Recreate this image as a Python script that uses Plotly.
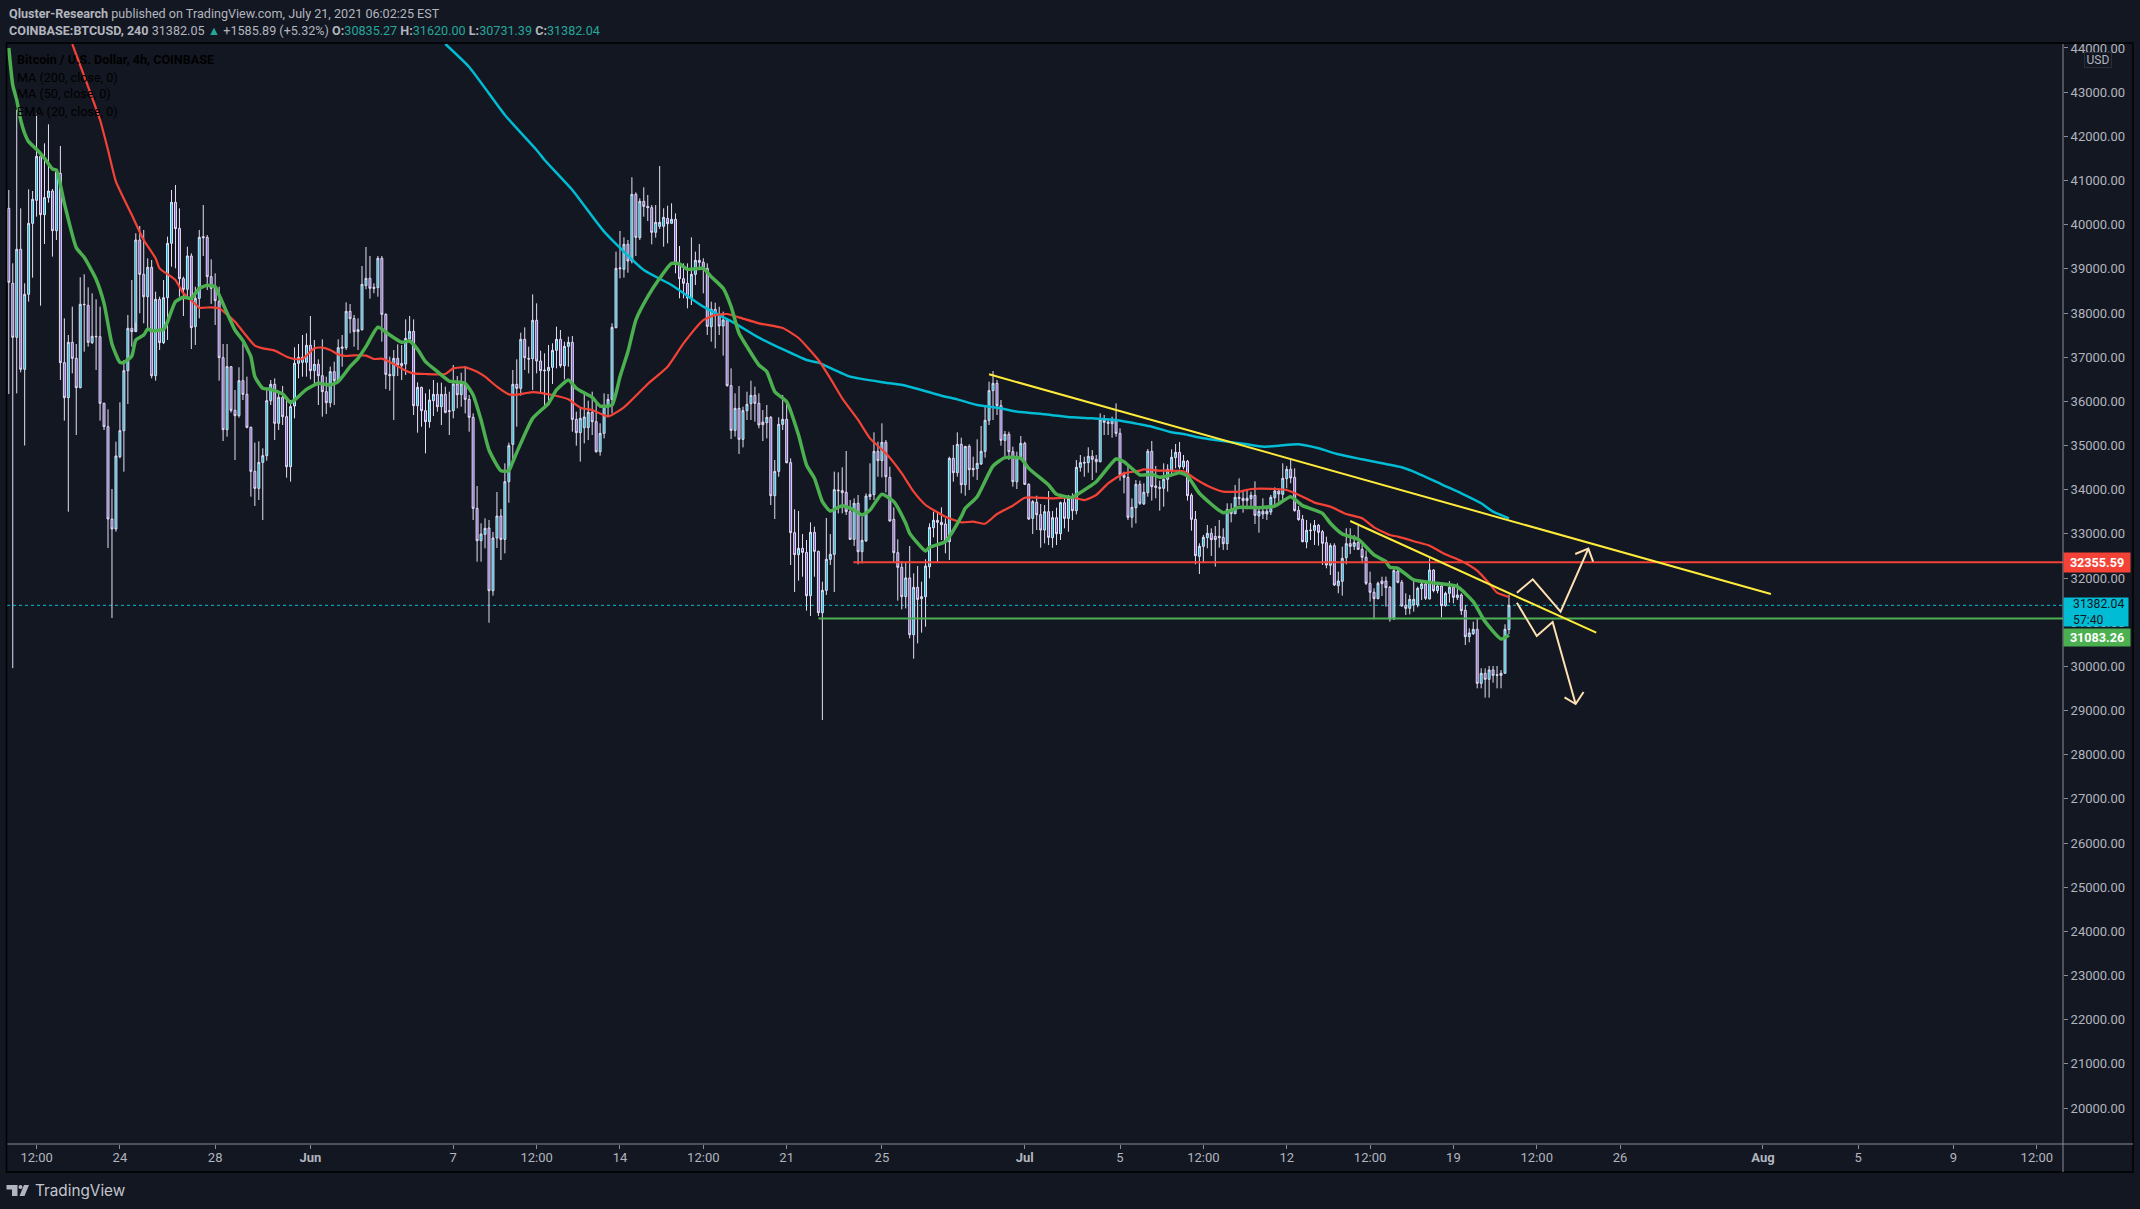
import pandas as pd
import plotly.graph_objects as go

# 4h candles
opens = [
40370,38672,37449,39442,36725,38423,40030,40551,41547,40227,
40612,40762,39864,41162,36876,36083,37336,36974,36310,38197,
38174,37329,37472,37464,35955,35427,33337,33110,34747,35336,
36695,37653,37578,39653,38876,38370,39034,36581,38310,37329,
38347,39578,40506,39917,38778,38536,39291,37691,38332,39729,
39713,38823,38559,38265,36989,35359,36785,35796,35676,36468,
36159,35412,34415,34030,34619,34770,36015,36385,35502,36091,
35653,34521,35895,36861,36883,36883,37268,36695,36838,36581,
36219,35970,36672,36468,37200,37215,38038,37872,37578,37623,
38620,38785,38581,38574,39238,37970,36611,36581,36973,36860,
36845,37411,37585,35902,36317,35789,35540,36015,36158,35879,
36158,35789,35789,36392,36151,36392,36045,35638,33577,32845,
32989,33133,31713,32906,33404,32875,34181,35026,36385,36294,
37404,36973,36966,37834,36913,36709,36694,36770,37155,37404,
36807,37245,37336,35592,35291,35404,35404,35751,35540,34860,
35275,35902,36045,37668,39004,38989,39555,39177,40687,39706,
40528,40415,40385,39826,39962,39962,40143,40030,40121,39079,
38777,38672,38347,38875,39192,39147,39011,37690,38083,37940,
37706,37834,36355,35343,35841,35140,35789,35947,36136,35955,
35532,35517,35638,33864,34415,35479,35593,34612,33027,32529,
32672,32581,31600,33034,32604,31215,31721,32423,32536,33993,
33978,33940,33502,32876,33691,32596,32838,33842,33887,34868,
34657,35072,34279,33328,32574,32242,31578,32003,30717,31789,
31578,31578,32257,33140,33306,33261,33223,32823,34710,34385,
35027,34113,34981,34483,34476,34581,34868,35570,36242,36408,
35902,35117,35253,34861,34181,34747,35049,34121,33351,33713,
33434,33087,33502,32913,33366,33004,33706,33351,33804,33525,
34506,34619,34612,34755,34687,34634,35585,35532,35494,35593,
35276,34340,34279,33374,33593,34121,33677,33933,34869,34084,
34054,34031,34235,34446,34726,34846,34514,34643,33873,33329,
32492,32718,32914,33012,32944,32944,32922,32778,33556,33458,
33827,33805,33752,33797,33873,33405,33510,33450,33495,33820,
33971,33895,34250,34461,34280,33533,33329,32816,33088,33080,
33193,33050,32801,32288,32733,31827,31926,32461,32778,32718,
32801,32650,32469,31880,31677,31533,31933,31933,31790,31073,
32152,31903,31382,31314,31390,31390,31760,31865,31526,32182,
31714,31820,31375,31654,31790,31556,31616,31269,30673,30741,
30839,29616,29843,29707,29918,29812,29797,29843,30835]
highs = [
40785,39125,42600,40370,38672,40800,40762,42530,41615,41842,
42272,40808,41253,41781,37880,37502,38144,37298,38808,38876,
38581,38446,38310,38144,35970,35819,34016,35087,35978,36936,
37955,38747,39804,39970,39880,39238,39200,38483,38370,38747,
39729,40785,40898,40370,38823,39502,39351,38596,39880,40445,
39766,39215,38898,38596,37298,37298,36800,36257,36770,37313,
36559,35427,35065,35095,34936,36257,36483,36521,36219,36347,
36106,36030,37223,37298,37502,37540,37932,37389,36951,37404,
36559,36785,36898,37404,37502,38242,38204,37955,37880,39064,
39495,39291,38672,39291,39290,37992,37011,37162,37290,37275,
37856,37932,37856,36430,36332,36181,36272,36483,36423,36423,
36332,36219,36823,36573,36649,36800,36143,35728,34083,33238,
33351,33314,33042,33947,33563,34596,35064,36709,36951,37555,
37675,37238,38423,38219,37147,37087,37275,37313,37690,37615,
37351,37464,37479,35766,35879,36219,36015,36219,35955,35502,
36181,36166,37766,39389,39856,39713,39653,41072,40732,40596,
40845,40672,40445,40445,41328,40370,40430,40483,40256,39517,
39124,39124,39713,39389,39562,39238,39124,38257,38234,38143,
38030,37879,36747,36181,36347,35879,36219,36468,36332,36181,
35804,35917,35668,34672,35638,36144,35993,34710,33555,33517,
32996,32861,33261,33162,32619,31917,33359,32996,34408,34393,
34506,34876,33766,33804,33879,33389,33917,34596,35298,35087,
35502,35125,34521,33600,32876,32385,32370,32725,32106,32272,
31917,32423,33238,33502,33502,33600,33351,34747,35012,35298,
35178,34989,35027,34747,35140,35442,35917,36445,36687,36483,
36030,35329,35313,34974,34861,35215,35087,34144,33766,33864,
33676,33653,33970,33517,33593,33729,33819,33879,33917,34672,
34785,34747,34959,34898,34785,35728,35691,35615,35653,35955,
35389,34408,34536,33804,34219,34204,34144,34922,35103,34537,
34205,34597,34575,34914,35035,35080,34786,34673,33918,33518,
32786,32975,33201,33126,33178,33314,33126,33692,33692,34107,
34258,33956,33993,33956,34190,33616,33805,33616,33880,34054,
34031,34597,34537,34673,34484,33631,33427,33314,33239,33314,
33224,33088,32937,32786,32786,32144,32711,33126,33126,32975,
33186,32763,32620,32144,31767,31918,32031,32031,31820,32220,
32220,31956,31654,31616,31956,31805,31933,31918,32446,32197,
31865,31880,31692,31933,31843,31880,31654,31390,30861,31012,
31073,29956,29956,30009,30009,30009,29918,30952,31620]
lows = [
36166,29960,36180,36657,35000,38257,38800,40181,38166,39563,
40498,39276,39653,36483,35563,33502,36634,35238,36295,37125,
37238,37298,36710,35563,35351,32680,31095,33050,34710,34408,
35940,37238,37781,37993,37766,37653,36521,36468,37163,37298,
37389,39049,39012,38370,37932,38370,37185,37276,37880,39291,
38521,38204,37729,36468,35102,35200,35744,34672,35630,36030,
35389,33842,33631,33766,33314,34657,35917,35125,35351,35464,
34272,34181,35615,36521,36559,36559,36498,36408,35917,35653,
35714,35864,35917,36445,36785,37163,37540,37238,37163,37600,
38536,38325,38446,38370,37351,36279,36241,35577,36573,36483,
36596,37351,35690,35290,35426,34823,35404,35668,35766,35464,
35728,35238,35615,35842,35879,35728,35313,33313,32370,32370,
32672,30989,31600,32680,32408,32558,33706,34596,35426,36128,
36709,36634,36257,36634,36181,35917,35917,36392,36747,36762,
36498,36785,35313,34996,34634,35049,35124,35238,34838,34770,
35162,35653,35728,37653,38785,38800,38913,39124,39290,39653,
40181,40083,39555,39706,39902,39502,39577,40030,38898,38332,
38332,38106,38181,38634,39011,38445,37502,37351,37200,37502,
37034,36332,35147,35200,34807,34958,35577,35577,35540,35389,
35102,35162,33653,33336,34294,35351,34597,32295,31683,31940,
32030,31261,31140,32030,31140,28785,31615,32295,31683,33464,
33464,33427,32861,32725,32310,32332,32823,33766,33766,34294,
34279,33940,33276,32347,31487,31291,31313,30634,30174,30521,
30763,30898,31993,32921,32355,32861,32559,32408,34181,34294,
33917,33864,33993,34294,34219,34559,34725,35464,35578,35691,
34996,34747,34672,34068,34015,34695,34106,33313,32996,33087,
32687,32785,32747,32687,32747,32861,33125,33049,33313,33442,
34408,34294,34385,34219,34385,34619,35238,35238,35178,35200,
34204,33917,33313,33140,33238,33654,33654,33842,33752,33805,
33526,33616,33956,34348,34484,34461,34461,33752,33073,32311,
32092,32348,32673,32499,32258,32688,32635,32635,33261,33443,
33654,33480,33556,33631,33224,33027,33337,33314,33427,33654,
33729,33744,34031,34144,33503,33299,32809,32673,32861,32748,
32733,32295,32220,32069,31820,31654,31601,32311,32544,32635,
32635,32333,31843,31465,31065,31518,31593,31352,31012,31050,
31880,31352,31163,31178,31239,31337,31503,31503,31518,31677,
31654,31111,31352,31443,31428,31503,31163,30484,30544,30711,
29503,29503,29292,29292,29631,29503,29503,29843,30731]
closes = [
38695,37449,39442,36725,38423,40030,40574,41547,40227,40612,
40762,39864,41193,36876,36083,37336,36974,36310,38197,38189,
37336,37472,37464,35955,35427,33337,33110,34763,35336,36695,
37653,37578,39653,38876,38370,39034,36581,38310,37329,38347,
39578,40506,39910,38778,38536,39291,37668,38332,39713,39706,
38823,38559,38280,36989,35359,36785,35796,35676,36468,36159,
35412,34415,34030,34619,34770,36015,36385,35502,36091,35653,
34521,35880,36861,36997,36997,37268,36695,36838,36581,36219,
35970,36672,36468,37215,37230,38038,37872,37578,37623,38649,
38785,38559,38559,39238,37970,36611,36581,36973,36823,36807,
37426,37585,35902,36317,35789,35540,36030,36158,35879,36158,
35751,35774,36392,36151,36392,36045,35638,33577,32845,32996,
33125,31713,32906,33404,32875,34181,34996,36385,36294,37404,
36989,36958,37834,36913,36694,36694,36770,37155,37404,36807,
37245,37336,35592,35291,35615,35645,35751,35540,34860,35275,
35902,36045,37675,39011,39019,39555,39177,40687,39713,40528,
40415,40385,39826,40053,40053,40166,40023,40121,39102,38777,
38672,38340,38875,39192,39147,39011,37698,38083,37940,37706,
37841,36355,35343,35841,35140,35789,35932,36136,35955,35464,
35472,35638,33864,34415,35479,35593,34612,33027,32529,32672,
32581,31600,33034,32604,31215,31721,32423,32536,34000,33978,
33932,33502,32876,33691,32596,32853,33857,33895,34868,34657,
35072,34294,33291,32574,32242,31578,32003,30717,31789,31517,
31532,32272,33147,33306,33261,33208,32823,34710,34385,35027,
34113,34981,34453,34453,34596,34868,35570,36242,36408,35902,
35117,35253,34861,34181,34755,35049,34121,33336,33729,33434,
33087,33502,32921,33366,33004,33706,33351,33804,33525,34506,
34612,34604,34755,34687,34634,35585,35525,35502,35593,35276,
34340,34279,33374,33600,34121,33691,33941,34869,34069,34054,
34031,34235,34461,34733,34846,34514,34650,33865,33329,32507,
32718,32922,33012,32869,32869,32914,32778,33548,33458,33827,
33805,33752,33805,33873,33420,33510,33450,33510,33827,33971,
33903,34258,34461,34265,33526,33322,32824,33080,33073,33193,
33035,32786,32295,32733,31843,31933,32446,32778,32718,32801,
32650,32469,31880,31677,31533,31880,31873,31782,31073,32167,
31903,31367,31314,31518,31518,31767,31865,31541,32182,31714,
31820,31375,31654,31790,31563,31616,31261,30673,30756,30839,
29616,29843,29707,29918,29797,29797,29843,30839,31382]

# moving averages, read at these bar numbers
ema20_bars = [0,1,2,3,4,5,7,9,11,12,14,17,19,22,24,26,28,29,31,32,34,35,36,39,40,42,44,46,48,50,52,53,57,59,61,62,64,66,69,71,72,75,78,81,83,86,88,90,93,
96,99,101,103,105,108,111,115,117,119,121,124,126,127,129,132,136,138,141,143,147,149,152,154,156,158,161,164,167,169,171,175,177,180,182,184,186,189,
191,193,196,199,201,203,205,207,210,213,215,217,220,223,226,227,231,232,236,240,241,244,248,251,255,257,262,264,268,269,274,279,281,285,
288,290,293,295,297,300,306,310,315,319,323,326,331,333,336,340,344,347,348,350,354,360,365,369,372,376,378]
ema20 = [44000,43160,42820,42370,42068,41880,41706,41502,41260,41238,40483,39480,39261,38763,38219,37298,36883,36883,37027,37389,37502,37638,37600,37630,37804,38257,38355,38332,38559,38627,38596,38408,37615,37374,37012,36559,36295,36272,36166,35970,36030,36272,36408,36370,36445,36785,36974,37238,37676,
37502,37336,37366,37177,36898,36672,36460,36407,36143,35577,34898,34430,34430,34634,35049,35615,35955,36257,36483,36294,36091,35894,35917,36558,37124,37841,38370,38785,39124,39109,38989,39011,38822,38558,38143,37540,37238,36823,
36672,36219,35993,35238,34559,34257,33728,33517,33638,33540,33427,33540,33895,33729,33238,33012,32612,32695,32823,33389,33578,33842,34536,34725,34710,34483,34106,33895,33827,33879,34181,34694,34634,34333,
34348,34280,34333,34386,34310,33918,33480,33601,33593,33631,33842,33639,33465,33239,32997,32876,32522,32371,32242,32220,31956,31880,31805,31465,31012,30620,30711]
sma50_bars = [16,23,25,27,31,34,37,38,42,44,47,48,51,53,57,59,62,64,67,70,72,74,77,79,81,83,85,87,90,92,94,
97,100,102,105,110,112,115,118,120,123,126,128,132,137,141,144,147,151,155,161,166,170,175,178,181,184,189,195,199,
204,207,210,214,217,221,225,228,231,233,236,240,243,246,249,252,253,256,259,263,268,271,274,277,281,285,
286,290,296,299,302,306,310,313,319,322,326,329,333,337,341,344,348,350,355,358,362,366,370,373,375,378]
sma50 = [44090,42370,41691,40974,40219,39653,39238,39012,38747,38446,38204,38121,38129,38106,37804,37578,37261,37200,37148,37012,36959,36959,37200,37215,37162,37064,37027,37042,37034,36959,36966,
36845,36694,36634,36619,36619,36747,36770,36672,36558,36332,36158,36151,36211,36143,36045,35857,35804,35660,35864,36392,36785,37313,37841,37954,37977,37902,37766,37660,37434,
36936,36521,36068,35578,35162,34823,34370,33955,33653,33540,33389,33261,33276,33230,33449,33593,33638,33819,33819,33804,33827,33766,33879,34144,34370,34431,
34461,34431,34416,34243,34092,33956,33956,34016,34016,33993,33842,33707,33616,33450,33352,33148,32975,32937,32809,32733,32537,32386,32167,31880,31669,31571]
sma200_bars = [110,116,125,133,135,142,150,160,167,175,183,189,201,204,212,221,226,235,239,244,250,253,261,268,273,279,285,288,293,296,301,307,312,316,320,325,330,335,341,346,351,355,361,366,371,374,378]
sma200 = [44090,43570,42483,41691,41464,40785,39841,38973,38634,38143,37766,37441,36936,36876,36559,36423,36355,36128,36045,35917,35842,35781,35706,35638,35615,35578,35480,35427,35299,35261,35163,35088,35027,34975,34997,35027,34937,34801,34688,34597,34507,34371,34122,33918,33692,33503,33352]

# drawn trend lines and arrows (bar number, price)
trend_a_bars, trend_a = [247, 444], [36612, 31639]
trend_b_bars, trend_b = [338, 400], [33291, 30763]
up_path_bars, up_path = [380, 384, 391, 398], [31668, 31971, 31239, 32665]
up_head_bars, up_head = [394.7, 398, 399.2], [32544, 32665, 32370]
down_path_bars, down_path = [380, 385, 389, 394.8], [31441, 30688, 31005, 29148]
down_head_bars, down_head = [392, 394.8, 396.8], [29300, 29148, 29420]
resistance, support, last_price = 32355.59, 31083.26, 31382.04
resistance_from, support_from = 212.8, 204

tick_dates = ["2021-05-20 12:00", "2021-05-24", "2021-05-28", "2021-06-01", "2021-06-07", "2021-06-10 12:00",
              "2021-06-14", "2021-06-17 12:00", "2021-06-21", "2021-06-25", "2021-07-01", "2021-07-05",
              "2021-07-08 12:00", "2021-07-12", "2021-07-15 12:00", "2021-07-19", "2021-07-22 12:00",
              "2021-07-26", "2021-08-01", "2021-08-05", "2021-08-09", "2021-08-12 12:00"]
tick_text = ["12:00", "24", "28", "<b>Jun</b>", "7", "12:00", "14", "12:00", "21", "25", "<b>Jul</b>", "5",
             "12:00", "12", "12:00", "19", "12:00", "26", "<b>Aug</b>", "5", "9", "12:00"]

assert len(opens) == len(highs) == len(lows) == len(closes) == 379
assert len(ema20_bars) == len(ema20) and len(sma50_bars) == len(sma50) and len(sma200_bars) == len(sma200)

BG = "#131722"
GREY = "#b2b5be"
AXIS = "#8a8d97"
FONT = "Roboto"
start = pd.Timestamp("2021-05-19 08:00")


def t(bar):
    return start + pd.to_timedelta(bar * 4, unit="h")


def ts(bars):
    return [t(b) for b in bars]


def px(x):
    return (x - 6.5) / (2063 - 6.5)


def py(y):
    return 1 - (y - 44) / (1144 - 44)


fig = go.Figure()
fig.add_trace(go.Candlestick(
    x=ts(range(len(opens))), open=opens, high=highs, low=lows, close=closes,
    increasing=dict(fillcolor="#00bcd4", line=dict(color="#e4def5", width=1)),
    decreasing=dict(fillcolor="#7e57c2", line=dict(color="#e4def5", width=1)),
))


def line(bars, vals, color, width, shape="linear"):
    fig.add_trace(go.Scatter(x=ts(bars), y=vals, mode="lines", hoverinfo="skip",
                             line=dict(color=color, width=width, shape=shape, smoothing=0.5)))


line(sma200_bars, sma200, "#00bcd4", 2.5, "spline")
line(sma50_bars, sma50, "#f44336", 2.2, "spline")
line(ema20_bars, ema20, "#4caf50", 3.5, "spline")
line([resistance_from, 517.6], [resistance, resistance], "#f44336", 2)
line([support_from, 517.6], [support, support], "#4caf50", 2)
line(trend_a_bars, trend_a, "#ffeb3b", 2)
line(trend_b_bars, trend_b, "#ffeb3b", 2)
line(up_path_bars, up_path, "#ffe0b2", 2)
line(up_head_bars, up_head, "#ffe0b2", 2)
line(down_path_bars, down_path, "#ffe0b2", 2)
line(down_head_bars, down_head, "#ffe0b2", 2)

shapes = [
    dict(type="line", xref="paper", yref="y", x0=0, x1=1, y0=last_price, y1=last_price, layer="below",
         line=dict(color="#00bcd4", width=1, dash="dot")),
    # outer frame and the axis rules
    dict(type="rect", xref="paper", yref="paper", x0=px(6), x1=px(2133), y0=py(43), y1=py(1172),
         line=dict(color="#000000", width=1.5)),
    dict(type="line", xref="paper", yref="paper", x0=px(2063), x1=px(2063), y0=py(44), y1=py(1172),
         line=dict(color=AXIS, width=1)),
    dict(type="line", xref="paper", yref="paper", x0=px(7), x1=px(2133), y0=py(1144), y1=py(1144),
         line=dict(color=AXIS, width=1)),
    # TradingView mark
    dict(type="path", xref="paper", yref="paper", fillcolor=GREY, line=dict(width=0),
         path=f"M {px(6)} {py(1185)} L {px(17)} {py(1185)} L {px(17)} {py(1196)} L {px(11.5)} {py(1196)} "
              f"L {px(11.5)} {py(1189.5)} L {px(6)} {py(1189.5)} Z"),
    dict(type="path", xref="paper", yref="paper", fillcolor=GREY, line=dict(width=0),
         path=f"M {px(23.5)} {py(1185)} L {px(28.5)} {py(1185)} L {px(24)} {py(1196)} L {px(19)} {py(1196)} Z"),
    dict(type="circle", xref="paper", yref="paper", fillcolor=GREY, line=dict(width=0),
         x0=px(18), x1=px(22), y0=py(1185), y1=py(1189)),
]


def note(x, y, text, size=12.6, color=GREY, family=FONT, **kw):
    return dict(xref="paper", yref="paper", x=px(x), y=py(y), text=text, showarrow=False, xanchor="left",
                yanchor="middle", font=dict(family=family, size=size, color=color), **kw)


TEAL = "#26a69a"
annotations = [
    note(6, 13, "<b>Qluster-Research</b> published on TradingView.com, July 21, 2021 06:02:25 EST"),
    note(6, 30, f"<b>COINBASE:BTCUSD, 240</b> 31382.05 <span style='color:{TEAL}'>▲</span> +1585.89 (+5.32%) "
                f"<b>O:</b><span style='color:{TEAL}'>30835.27</span> <b>H:</b><span style='color:{TEAL}'>31620.00</span> "
                f"<b>L:</b><span style='color:{TEAL}'>30731.39</span> <b>C:</b><span style='color:{TEAL}'>31382.04</span>"),
    note(15, 60, "<b>Bitcoin / U.S. Dollar, 4h, COINBASE</b>", color="#000000"),
    note(15, 77, "MA (200, close, 0)", color="#000000"),
    note(15, 94, "MA (50, close, 0)", color="#000000"),
    note(15, 111, "EMA (20, close, 0)", color="#000000"),
    note(33, 1190.5, "TradingView", size=15.3, family="Inter", color="#c4c6cd"),
    # USD badge
    dict(xref="paper", yref="paper", x=px(2098), y=py(60), xanchor="center", yanchor="middle", text="USD",
         showarrow=False, width=26, height=14, bgcolor=BG, bordercolor="#2a2e39", borderwidth=1, borderpad=0,
         font=dict(family=FONT, size=12, color=GREY)),
    # price tags
    dict(xref="paper", yref="y", x=1, y=resistance, xanchor="left", text="<b>32355.59</b>", showarrow=False,
         width=64, height=17, bgcolor="#f44336", font=dict(family=FONT, size=12.6, color="#ffffff")),
    dict(xref="paper", yref="y", x=1, y=last_price, xanchor="left", yanchor="top", yshift=8, showarrow=False,
         text="&nbsp;&nbsp;&nbsp;31382.04<br>&nbsp;&nbsp;&nbsp;57:40", align="left", width=64, height=28,
         bgcolor="#00bcd4", borderpad=0, font=dict(family=FONT, size=12.2, color="#131722")),
    dict(xref="paper", yref="y", x=1, y=support, xanchor="left", yshift=-19, text="<b>31083.26</b>", showarrow=False,
         width=64, height=15, bgcolor="#4caf50", borderpad=1, font=dict(family=FONT, size=12.6, color="#ffffff")),
]

fig.update_layout(
    width=2140, height=1209, paper_bgcolor=BG, plot_bgcolor=BG, showlegend=False,
    margin=dict(l=6.5, r=77, t=44, b=65), font=dict(family=FONT, size=13, color=GREY),
    shapes=shapes, annotations=annotations, dragmode=False,
    xaxis=dict(type="date", range=[t(-0.45), t(517.6)], rangeslider=dict(visible=False), showgrid=False,
               zeroline=False, showline=False, tickmode="array", tickvals=tick_dates, ticktext=tick_text,
               ticks="outside", ticklen=4, tickcolor=AXIS, ticklabelstandoff=-3,
               tickfont=dict(size=13, color=GREY)),
    yaxis=dict(side="right", range=[19187, 44090], showgrid=False, zeroline=False, showline=False,
               dtick=1000, tick0=0, tickformat=".2f", ticks="outside", ticklen=4, tickcolor=AXIS,
               tickfont=dict(size=13, color=GREY)),
)

fig.write_html("out.html", config=dict(displayModeBar=False), post_script="document.body.style.margin='0';")
